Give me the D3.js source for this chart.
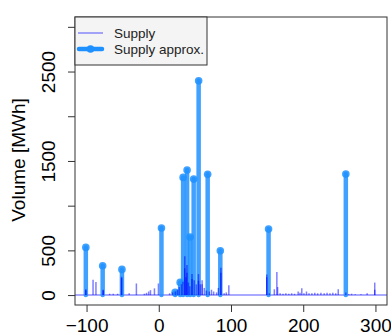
<!DOCTYPE html>
<html>
<head>
<meta charset="utf-8">
<script src="https://cdn.jsdelivr.net/npm/d3@7"></script>
<style>
	body { margin: 0; background: #fff; }
	text { font-family: "Liberation Sans", Arial, sans-serif; }
</style>
</head>
<body>
<svg id="chart" width="391" height="336"></svg>
<script>
	// supply observations (day, MWh); repeated days overlap and look darker
	var supplyX = [ -101, -101, -91, -87, -77, -77, -68, -63, -57, -51.5, -51.5, -41, -31, -20, -17, -14, -11.5, -6, -0.5,
		15, 19, 23, 26, 28.5, 31.5, 33.5, 36, 36, 37.5, 39, 39, 41, 43, 46, 46, 49, 52, 55, 55, 57.5, 60, 60, 63, 66, 70, 73, 76, 80, 82.5,
		86, 86, 90.5, 93.5, 97, 149.5, 149.5, 153, 160, 163.5, 164.5, 168, 172, 176, 180, 184, 188, 193, 195.5, 198, 201, 204.5,
		208, 212, 216, 220, 224.5, 229, 233, 237, 241, 245, 248.5, 259, 263, 267, 272, 280, 288.5, 299, 299 ];
	var supplyY = [ 65, 55, 170, 145, 60, 50, 15, 15, 15, 205, 190, 20, 130, 15, 25, 40, 55, 75, 130,
		20, 30, 40, 60, 90, 120, 150, 435, 300, 200, 335, 250, 140, 100, 235, 180, 165, 120, 235, 160, 120, 165, 120, 80, 50, 40, 60, 40, 30, 80,
		305, 250, 20, 30, 110, 230, 200, 20, 65, 257, 90, 20, 15, 20, 15, 20, 15, 40, 25, 75, 20, 40,
		20, 20, 25, 20, 25, 20, 25, 20, 25, 20, 65, 30, 10, 15, 10, 10, 20, 140, 60 ];

	// approximated supply
	var approxX = [ -101, -77.7, -51, 3.7, 22.6, 29.6, 33.7, 39.2, 43.4, 48.3, 55.2, 67.7, 85.2, 152, 259 ];
	var approxY = [ 533, 328, 287, 750, 30, 142, 1316, 1398, 649, 1297, 2397, 1350, 496, 738, 1353 ];

	var xTicks = [ -100, 0, 100, 200, 300 ];
	var yTicks = [ 0, 500, 1000, 1500, 2000, 2500, 3000 ];
	var yLabels = [ 0, 500, 1500, 2500 ];

	var svg = d3.select("#chart");
	var xScale = d3.scaleLinear().domain([ -116, 316 ]).range([ 75, 387 ]);
	var yScale = d3.scaleLinear().domain([ -111, 3110 ]).range([ 305, 17 ]);

	var plot = svg.append("g");

	// zero line
	plot.append("line")//
	.attr("x1", xScale.range()[0]).attr("x2", xScale.range()[1])//
	.attr("y1", yScale(0)).attr("y2", yScale(0))//
	.style("stroke", "#0000ff").style("stroke-opacity", 0.45).style("stroke-width", 1.5);

	plot.selectAll(".stem").data(approxX).enter().append("line")//
	.attr("class", "stem")//
	.attr("x1", function(d) { return xScale(d); })//
	.attr("x2", function(d) { return xScale(d); })//
	.attr("y1", yScale(0))//
	.attr("y2", function(d, i) { return yScale(approxY[i]); })//
	.style("stroke", "#1e90ff").style("stroke-opacity", 0.85)//
	.style("stroke-width", 4.5).style("stroke-linecap", "round");

	plot.selectAll(".dot").data(approxX).enter().append("circle")//
	.attr("class", "dot")//
	.attr("cx", function(d) { return xScale(d); })//
	.attr("cy", function(d, i) { return yScale(approxY[i]); })//
	.attr("r", 3.8)//
	.style("fill", "#1e90ff").style("fill-opacity", 0.85);

	plot.selectAll(".supply").data(supplyX).enter().append("line")//
	.attr("class", "supply")//
	.attr("x1", function(d) { return xScale(d); })//
	.attr("x2", function(d) { return xScale(d); })//
	.attr("y1", yScale(0))//
	.attr("y2", function(d, i) { return yScale(supplyY[i]); })//
	.style("stroke", "#0000ff").style("stroke-opacity", 0.5).style("stroke-width", 1.5);

	// box
	svg.append("rect")//
	.attr("x", 75).attr("y", 17).attr("width", 312).attr("height", 288)//
	.style("fill", "none").style("stroke", "#333").style("stroke-width", 1);

	var xAxis = svg.append("g").attr("transform", "translate(0,305)")//
	.call(d3.axisBottom(xScale).tickValues(xTicks).tickSize(7).tickPadding(6));
	xAxis.select(".domain").remove();
	xAxis.selectAll("text").style("font-size", "19px").style("fill", "#000")//
	.attr("dy", null).attr("y", 27);
	xAxis.selectAll("line").style("stroke", "#333");

	var yAxis = svg.append("g").attr("transform", "translate(75,0)")//
	.call(d3.axisLeft(yScale).tickValues(yTicks).tickSize(7).tickFormat(function(d) {
		return yLabels.indexOf(d) >= 0 ? d : "";
	}));
	yAxis.select(".domain").remove();
	yAxis.selectAll("line").style("stroke", "#333");
	yAxis.selectAll("text").style("font-size", "19px").style("fill", "#000")//
	.attr("x", null).attr("dy", null)//
	.attr("text-anchor", "middle")//
	.attr("transform", "translate(-20,0) rotate(-90)");

	svg.append("text")//
	.attr("transform", "translate(25,160) rotate(-90)")//
	.attr("text-anchor", "middle")//
	.style("font-size", "19px")//
	.text("Volume [MWh]");

	// legend
	var legend = svg.append("g");
	legend.append("rect")//
	.attr("x", 75).attr("y", 17).attr("width", 132).attr("height", 48)//
	.style("fill", "#f4f4f4").style("stroke", "#333").style("stroke-width", 1);
	legend.append("line")//
	.attr("x1", 78).attr("x2", 103).attr("y1", 33).attr("y2", 33)//
	.style("stroke", "#0000ff").style("stroke-opacity", 0.45).style("stroke-width", 1.5);
	legend.append("line")//
	.attr("x1", 79).attr("x2", 102).attr("y1", 49).attr("y2", 49)//
	.style("stroke", "#1e90ff").style("stroke-width", 4.5).style("stroke-linecap", "round");
	legend.append("circle").attr("cx", 90.5).attr("cy", 49).attr("r", 3.8).style("fill", "#1e90ff");
	legend.append("text").attr("x", 114).attr("y", 38).style("font-size", "13.5px").style("fill", "#222").text("Supply");
	legend.append("text").attr("x", 114).attr("y", 54).style("font-size", "13.5px").style("fill", "#222").text("Supply approx.");
</script>
</body>
</html>
